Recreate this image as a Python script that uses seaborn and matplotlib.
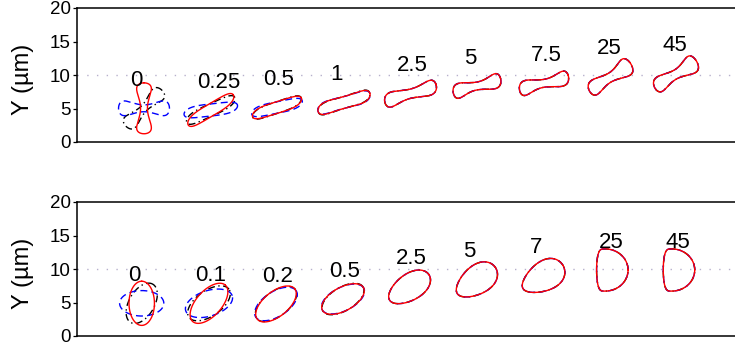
import numpy as np
import pandas as pd
import matplotlib
matplotlib.use("Agg")
import matplotlib.pyplot as plt
import seaborn as sns

# ---- top row: elongated cells (µm); three outlines per cell ----
top_times = ["0", "0.25", "0.5", "1", "2.5", "5", "7.5", "25", "45"]
top_cx = [10.0, 19.97, 29.85, 39.85, 49.78, 59.7, 69.7, 79.63, 89.4]
top_cy = [5.03, 4.78, 5.15, 5.9, 7.21, 8.36, 8.76, 9.55, 10.0]
top_length = [7.6, 8.1, 7.8, 8.2, 8.1, 7.4, 7.6, 7.4, 7.4]
top_width = [2.2, 1.8, 1.7, 1.8, 2.1, 2.1, 2.1, 2.4, 2.4]
top_pinch = [0.8, 0.3, 0.3, 0.45, 0.7, 0.75, 0.75, 0.75, 0.75]
top_bend = [0.0, 0.1, 0.1, 0.15, 0.25, 0.3, 0.3, 0.25, 0.25]
top_taper = [0.0, 0.0, 0.0, 0.0, 0.0, 0.0, 0.0, 0.12, 0.12]
top_flat = [0.0] * 9
top_angle_red = [90, 34, 21, 20, 21, 20, 19, 37, 36]
top_angle_blue = [0, 10, 15, 19, 21, 20, 19, 37, 36]
top_angle_black = [45, 28, 22, 21, 21, 20, 19, 37, 36]

# ---- bottom row: rounder cells ----
bot_times = ["0", "0.1", "0.2", "0.5", "2.5", "5", "7", "25", "45"]
bot_cx = [9.66, 19.7, 29.7, 39.7, 49.6, 59.6, 69.55, 79.9, 89.85]
bot_cy = [4.88, 4.88, 4.78, 5.52, 7.24, 8.28, 8.81, 9.85, 9.85]
bot_length = [6.6, 7.3, 7.2, 7.0, 7.0, 6.9, 6.9, 4.7, 4.7]
bot_width = [3.8, 3.8, 3.7, 3.5, 3.9, 4.2, 4.3, 6.3, 6.3]
bot_pinch = [0.0] * 9
bot_bend = [0.0] * 9
bot_taper = [0.0, 0.0, 0.0, 0.0, 0.12, 0.2, 0.25, 0.0, 0.0]
bot_flat = [0.0, 0.0, 0.0, 0.0, 0.0, 0.0, 0.0, 0.23, 0.23]
bot_angle_red = [90, 48, 39, 29, 33, 35, 30, 0, 0]
bot_angle_blue = [0, 18, 33, 27, 33, 35, 30, 0, 0]
bot_angle_black = [60, 35, 37, 31, 33, 35, 30, 0, 0]

CURVES = ["black", "blue", "red"]
PALETTE = {"black": "black", "blue": "#0000ff", "red": "#ff0000"}
DASHES = {"black": (5, 2.5, 1, 2.5), "blue": (5, 3), "red": ""}


def outline(cx, cy, length, width, angle, pinch, bend, taper, flat, n=361):
    """Closed cell contour: pinched / tapered / S-bent body; `flat` squares
    off the rear end so the outline becomes D-shaped."""
    t = np.linspace(0, 2 * np.pi, n)
    u, v = np.cos(t), np.sin(t)
    prof = v * (1 - pinch * v ** 2)
    prof = prof / np.abs(prof).max()
    expo = max(1.0 - 2.2 * flat, 0.45)
    xl = np.where(u >= 0,
                  length * (0.5 + flat) * u,
                  -length * (0.5 - flat) * np.abs(u) ** expo)
    yl = 0.5 * width * prof * (1 + taper * u)
    yl = yl + bend * (u ** 3 - u) / 0.3849
    xl = xl - 0.5 * (xl.max() + xl.min())
    yl = yl - 0.5 * (yl.max() + yl.min())
    a = np.deg2rad(angle)
    return (cx + xl * np.cos(a) - yl * np.sin(a),
            cy + xl * np.sin(a) + yl * np.cos(a))


def build(cx, cy, length, width, pinch, bend, taper, flat, angles):
    frames = []
    for i in range(len(cx)):
        for curve in CURVES:
            x, y = outline(cx[i], cy[i], length[i], width[i], angles[curve][i],
                           pinch[i], bend[i], taper[i], flat[i])
            frames.append(pd.DataFrame({"x": x, "y": y, "cell": i, "curve": curve}))
    return pd.concat(frames, ignore_index=True)


top_df = build(top_cx, top_cy, top_length, top_width, top_pinch, top_bend,
               top_taper, top_flat,
               {"red": top_angle_red, "blue": top_angle_blue, "black": top_angle_black})
bot_df = build(bot_cx, bot_cy, bot_length, bot_width, bot_pinch, bot_bend,
               bot_taper, bot_flat,
               {"red": bot_angle_red, "blue": bot_angle_blue, "black": bot_angle_black})

sns.set_theme(style="white")
plt.rcParams["font.family"] = ["Liberation Sans", "DejaVu Sans"]

W, H = 735, 354
fig = plt.figure(figsize=(W / 100, H / 100), dpi=100)
ax_w = 660
panels = [
    (fig.add_axes([77 / W, (H - 142) / H, ax_w / W, 134 / H]), top_df, top_times),
    (fig.add_axes([77 / W, (H - 336) / H, ax_w / W, 134 / H]), bot_df, bot_times),
]

for ax, df, times in panels:
    ax.axhline(10, color="#b7b0cc", lw=1.0, linestyle=(0, (1, 6)), zorder=0)
    sns.lineplot(data=df, x="x", y="y", hue="curve", style="curve", units="cell",
                 estimator=None, sort=False, hue_order=CURVES, style_order=CURVES,
                 palette=PALETTE, dashes=DASHES, linewidth=1.0, legend=False, ax=ax)
    red = df[df["curve"] == "red"]
    for i, label in enumerate(times):
        cell = red[red["cell"] == i]
        mx = 0.5 * (cell["x"].min() + cell["x"].max())
        my = 0.5 * (cell["y"].min() + cell["y"].max())
        ax.text(mx - 2.0, my + 3.35, label, ha="left", va="baseline",
                fontsize=16, color="black")

    ax.set_xlim(0, ax_w / 6.7)
    ax.set_ylim(0, 20)
    ax.set_xticks([])
    ax.set_yticks([0, 5, 10, 15, 20])
    ax.tick_params(axis="y", left=True, direction="out", length=3, width=0.9,
                   pad=1.5, labelsize=13.5, colors="black")
    ax.set_xlabel("")
    ax.set_ylabel("Y (µm)", fontsize=17, color="black", va="center")
    ax.yaxis.set_label_coords(-(77 - 23) / ax_w, 0.47)
    for side in ("left", "top", "bottom"):
        ax.spines[side].set_color("black")
        ax.spines[side].set_linewidth(1.1)
    ax.spines["right"].set_visible(False)

fig.savefig("out.png", dpi=100)
